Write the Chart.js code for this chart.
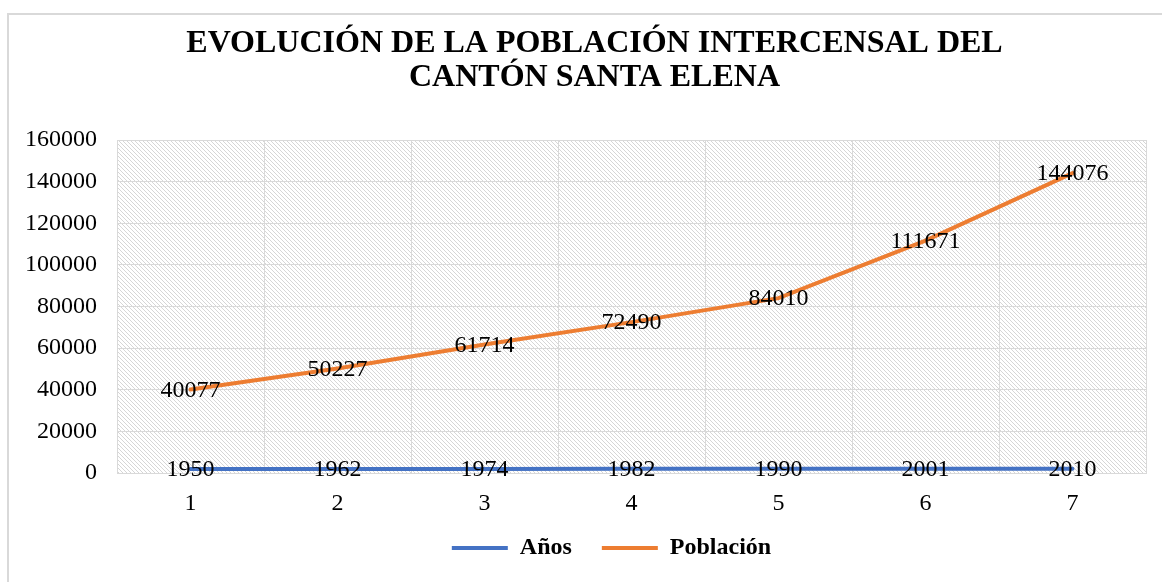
<!DOCTYPE html>
<html>
<head>
<meta charset="utf-8">
<script src="https://cdn.jsdelivr.net/npm/chart.js@4/dist/chart.umd.min.js"></script>
<style>
  html, body { margin: 0; padding: 0; background: #fff; overflow: hidden; }
  #marco { position: absolute; left: 7px; top: 13px; width: 1174px; height: 600px;
           border: 2px solid #d9d9d9; box-sizing: border-box; }
  #grafico { position: absolute; left: 0; top: 0; }
</style>
</head>
<body>
<div id="marco"><canvas id="grafico" width="1170" height="572"></canvas></div>
<script>
// Datos del cantón Santa Elena
const categorias = ['1', '2', '3', '4', '5', '6', '7'];
const anios = [1950, 1962, 1974, 1982, 1990, 2001, 2010];
const poblacion = [40077, 50227, 61714, 72490, 84010, 111671, 144076];
const titulo = ['EVOLUCIÓN DE LA POBLACIÓN INTERCENSAL DEL', 'CANTÓN SANTA ELENA'];

const fuente = '"Liberation Serif", "Times New Roman", serif';
const gris = '#d9d9d9';

// trama diagonal del área de trazado
function crearTrama() {
  const c = document.createElement('canvas');
  c.width = 4;
  c.height = 4;
  const g = c.getContext('2d');
  g.fillStyle = '#ffffff';
  g.fillRect(0, 0, 4, 4);
  g.fillStyle = '#d6d6d6';
  for (let i = 0; i < 4; i += 1) {
    g.fillRect(i, i, 1, 1);
  }
  return c;
}

const fondoTrama = {
  id: 'fondoTrama',
  beforeDraw(chart) {
    const { ctx, chartArea } = chart;
    ctx.save();
    ctx.fillStyle = ctx.createPattern(crearTrama(), 'repeat');
    ctx.fillRect(chartArea.left, chartArea.top, chartArea.right - chartArea.left, chartArea.bottom - chartArea.top);
    ctx.restore();
  },
};

// centra el título sobre todo el marco y acerca la leyenda al eje
const ajusteCajas = {
  id: 'ajusteCajas',
  afterLayout(chart) {
    chart.titleBlock.left += 9;
    chart.titleBlock.right += 9;
    chart.legend.left += 26;
    chart.legend.right += 26;
    chart.legend.top -= 13;
    chart.legend.bottom -= 13;
  },
};

// valores escritos encima de cada punto
const etiquetas = {
  id: 'etiquetas',
  afterDatasetsDraw(chart) {
    const ctx = chart.ctx;
    ctx.save();
    ctx.font = '24px ' + fuente;
    ctx.fillStyle = '#000';
    ctx.textAlign = 'center';
    ctx.textBaseline = 'middle';
    chart.data.datasets.forEach((ds, i) => {
      chart.getDatasetMeta(i).data.forEach((pt, j) => {
        ctx.fillText(String(ds.data[j]), pt.x, pt.y + 1);
      });
    });
    ctx.restore();
  },
};

const ctx = document.getElementById('grafico').getContext('2d');
new Chart(ctx, {
  type: 'line',
  data: {
    labels: categorias,
    datasets: [
      {
        label: 'Años',
        data: anios,
        borderColor: '#4472c4',
        backgroundColor: '#4472c4',
        borderWidth: 4,
        borderCapStyle: 'round',
        pointRadius: 0,
        tension: 0,
      },
      {
        label: 'Población',
        data: poblacion,
        borderColor: '#ed7d31',
        backgroundColor: '#ed7d31',
        borderWidth: 4,
        borderCapStyle: 'round',
        pointRadius: 0,
        tension: 0,
      },
    ],
  },
  options: {
    responsive: false,
    animation: false,
    layout: {
      padding: { left: 16, right: 33, top: 8, bottom: 4 },
    },
    plugins: {
      title: {
        display: true,
        text: titulo,
        color: '#000',
        font: { family: fuente, size: 32, weight: 'bold', lineHeight: 1.0625 },
        padding: { top: 4, bottom: 45 },
      },
      legend: {
        position: 'bottom',
        labels: {
          color: '#000',
          font: { family: fuente, size: 24, weight: 'bold' },
          usePointStyle: true,
          pointStyle: 'line',
          pointStyleWidth: 56,
          padding: 30,
        },
      },
      tooltip: { enabled: false },
    },
    scales: {
      x: {
        offset: true,
        grid: { color: gris, offset: true, drawTicks: false },
        border: { color: gris },
        ticks: { color: '#000', font: { family: fuente, size: 24 }, padding: 16 },
        afterFit: (escala) => { escala.height = 46; },
      },
      y: {
        min: 0,
        max: 160000,
        ticks: {
          stepSize: 20000,
          color: '#000',
          font: { family: fuente, size: 24 },
          padding: 20,
          callback: (v) => String(v),
        },
        grid: { color: gris, drawTicks: false },
        border: { color: gris },
        afterFit: (escala) => { escala.width = 92; },
      },
    },
  },
  plugins: [fondoTrama, ajusteCajas, etiquetas],
});
</script>
</body>
</html>
